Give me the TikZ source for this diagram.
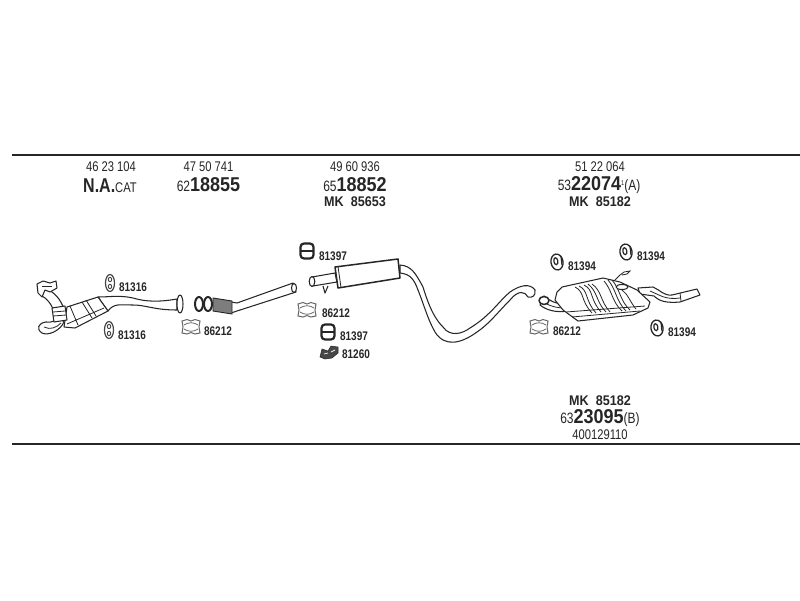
\documentclass[tikz,border=0pt]{standalone}
\usepackage{fontspec}
\setmainfont[FakeStretch=0.8]{Liberation Sans}
\newfontfamily\wideb[FakeStretch=0.9]{Liberation Sans}
\definecolor{ink}{HTML}{262626}
\newcommand{\bigdigits}{\fontsize{20}{20}\selectfont\wideb\bfseries}
\newcommand{\prefixsize}{\fontsize{15}{15}\selectfont}
\tikzset{
  part/.style={draw=ink,line width=1.05pt,fill=white,line join=round},
  partthin/.style={draw=ink,line width=0.8pt},
  rule/.style={draw=ink,line width=1.7pt},
  small/.style={font=\fontsize{14}{15}\selectfont,text=ink,inner sep=0pt},
  big/.style={font=\prefixsize,text=ink,inner sep=0pt},
  code/.style={font=\fontsize{12.5}{13}\selectfont\bfseries,text=ink,inner sep=0pt},
  mk/.style={font=\fontsize{14}{15}\selectfont\wideb\bfseries,text=ink,inner sep=0pt},
  pics/ringclamp/.style={code={
    \draw[ink!85,line width=1.2pt,fill=white] (0,0) ellipse (4.5pt and 8.5pt);
    \draw[ink!85,line width=0.9pt] (0,-3.5) ellipse (1.7pt and 2.2pt) (0,3.5) ellipse (1.7pt and 2.2pt);
  }},
  pics/blockclamp/.style={code={
    \draw[ink,line width=2.2pt,fill=white,rounded corners=3.5pt] (-6.5,-7.5) rectangle (6.5,7.5);
    \draw[ink,line width=1.7pt] (-6.5,0) -- (6.5,0);
  }},
  pics/eyeclamp/.style={code={
    \draw[ink,line width=1.3pt,fill=white,rotate=10] (0,0) ellipse (6pt and 8pt);
    \draw[ink,line width=1.2pt,fill=white,rotate=10] (-1,-1) ellipse (2pt and 3.5pt);
    \draw[ink,line width=1.2pt] (4,-6) -- (5,3);
  }},
  pics/gasket/.style={code={
    \draw[ink!70,line width=1pt,fill=white] (-9,-6) -- (-4,-7.5) -- (0,-6) -- (4,-7.5) -- (9,-6) -- (8,0) -- (9,6) -- (4,7) -- (0,5.5) -- (-4,7) -- (-9,6) -- (-8,0) -- cycle;
    \draw[ink!70,line width=0.8pt] (-7,-2) .. controls (-3,-5) and (3,-5) .. (7,-2) (-7,2) .. controls (-3,5) and (3,5) .. (7,2);
  }},
}
\begin{document}
\begin{tikzpicture}[x=1pt,y=-1pt]
\useasboundingbox (0,0) rectangle (800,600);
\fill[white] (0,0) rectangle (800,600);
\draw[rule] (12,155) -- (800,155);
\draw[rule] (12,444) -- (800,444);

% header texts
\node[small] (a1) at (111,167) {46 23 104};
\node[big] (a2) at (110,186) {\fontsize{20}{20}\selectfont\bfseries N.A.\fontsize{14}{14}\selectfont\mdseries CAT};
\node[small] (b1) at (208.5,167) {47 50 741};
\node[big] (b2) at (208.5,185) {62{\bigdigits 18855}};
\node[small] (c1) at (355,167) {49 60 936};
\node[big] (c2) at (355,185) {65{\bigdigits 18852}};
\node[mk] (c3) at (355,201.5) {MK\ \ 85653};
\node[small] (d1) at (600,167) {51 22 064};
\node[big] (d2) at (599,185) {53{\bigdigits 22074}\raisebox{5pt}{\fontsize{7}{7}\selectfont 1}\fontsize{15}{15}\selectfont(A)};
\node[mk] (d3) at (600,201.5) {MK\ \ 85182};
\node[mk] (e1) at (600,400.5) {MK\ \ 85182};
\node[big] (e2) at (600,418.5) {63{\bigdigits 23095}\fontsize{15}{15}\selectfont(B)};
\node[small] (e3) at (600,435) {400129110};

% part labels
\node[code] (l1) at (133,287) {81316};
\node[code] (l2) at (132,335) {81316};
\node[code] (l3) at (218,331) {86212};
\node[code] (l4) at (333,256) {81397};
\node[code] (l5) at (336,313) {86212};
\node[code] (l6) at (354,336) {81397};
\node[code] (l7) at (356,354) {81260};
\node[code] (l8) at (582,266) {81394};
\node[code] (l9) at (651,256) {81394};
\node[code] (l10) at (682,332) {81394};
\node[code] (l11) at (567,331) {86212};

% clamps
\pic at (110,283) {ringclamp};
\pic at (109,330) {ringclamp};
\pic at (191,327) {gasket};
\pic at (307,251) {blockclamp};
\pic at (307,310) {gasket};
\pic at (328,332) {blockclamp};
\pic at (557,262) {eyeclamp};
\pic at (626,252) {eyeclamp};
\pic at (657,328) {eyeclamp};
\pic at (539,327) {gasket};
% rubber block 81260
\draw[ink,fill=ink!85,line width=0.5pt] (320,357) -- (322,349) -- (328,351) -- (331,346) -- (338,347) -- (338,353) -- (332,358) -- (325,359) -- cycle;
\draw[white,line width=0.7pt] (324,354) -- (328,353) (331,352) -- (335,350);

% front pipe with catalyst
\draw[part] (45,288) .. controls (54,292) and (60,298) .. (64,309) -- (54,312) .. controls (52,304) and (46,298) .. (42,296) -- cycle;
\draw[part] (37,284) -- (43,281) -- (50,283) -- (56,281) -- (57,288) -- (50,292) -- (45,290) -- (42,297) -- (38,293) -- cycle;
\draw[partthin] (42,286) -- (52,286);
\draw[part] (64,322) .. controls (60,331) and (48,336) .. (42,333) .. controls (36,329) and (38,323) .. (46,322) .. controls (52,323) and (56,320) .. (60,318) -- cycle;
\draw[partthin] (44,327) .. controls (50,330) and (56,328) .. (61,323);
\draw[part] (108,311) .. controls (114,303) and (120,305) .. (133,305) .. controls (146,305) and (154,310) .. (177,310) -- (177,299) .. controls (160,302) and (146,302) .. (133,298) .. controls (120,295) and (110,297) .. (98,297) -- cycle;
\draw[part] (67,307) -- (98,297) -- (108,311) -- (75,328) -- (64,327) -- cycle;
\draw[partthin] (82,302) -- (92,318) (86,300) -- (96,316) (70,306) -- (78,325) (67,324) -- (104,308);
\draw[part] (52,308) -- (65,306) -- (67,320) -- (54,322) -- cycle;
\draw[partthin] (53,312) -- (65,311) (53,316) -- (66,315);
\draw[part] (180,304) ellipse (3pt and 9pt);

% second pipe
\draw[part] (231,302) -- (237,303) -- (293,283) -- (296,292) -- (237,311) -- (231,313) -- cycle;
\fill[ink!60,draw=ink,line width=0.9pt] (213,298) -- (232,301) -- (232,314) -- (213,311) -- cycle;
\draw[ink,line width=2pt,fill=white] (208,304) ellipse (4pt and 7pt);
\draw[ink,line width=2pt,fill=white] (199,304) ellipse (4pt and 7pt);
\draw[part] (294,288) ellipse (2.5pt and 4.5pt);

% centre silencer
\draw[part] (400,265) .. controls (411,266) and (415,272) .. (423,287) .. controls (430,310) and (436,320) .. (443,327) .. controls (450,337) and (462,334) .. (470,328) .. controls (490,316) and (500,300) .. (510,292) .. controls (520,285) and (530,283) .. (535,290) .. controls (536,296) and (532,298) .. (528,297) .. controls (525,291) and (518,290) .. (510,300) .. controls (500,310) and (488,325) .. (477,332) .. controls (462,343) and (445,348) .. (435,332) .. controls (428,320) and (424,305) .. (418,290) .. controls (414,279) and (410,274) .. (400,273) -- cycle;
\draw[part] (312,277) -- (335,273) -- (337,282) -- (313,286) -- cycle;
\draw[part] (312,281.5) ellipse (2.8pt and 5pt);
\draw[part] (323,286) -- (325,293) -- (328,286);
\draw[part,line width=1.5pt] (335,267) -- (398,259) -- (400,278) -- (338,288) -- cycle;
\draw[partthin] (338,266.5) -- (341,287.5);

% rear silencer
\draw[part] (638,288) -- (653,287) .. controls (660,290) and (664,296) .. (672,295) -- (697,289) -- (700,295) -- (680,302) .. controls (668,303) and (660,302) .. (654,296) -- (640,294) -- cycle;
\draw[partthin] (680,293) -- (681,301) (650,291) .. controls (660,295) and (665,300) .. (680,298);
\draw[partthin,fill=none] (615,280) -- (620,275) -- (624,272) -- (630,271) -- (627,274) -- (622,275);
\draw[part] (544,296) .. controls (550,301) and (556,304) .. (564,304) -- (568,311) .. controls (556,313) and (546,310) .. (540,305) -- cycle;
\draw[partthin] (545,303) .. controls (552,307) and (558,308) .. (566,308);
\draw[part,line width=1.5pt] (544,300.5) ellipse (5pt and 4pt);
\draw[part] (557,292) -- (562,287) -- (603,278) -- (620,282) -- (637,290) -- (650,302) -- (648,308) -- (633,315) -- (578,321) -- (563,310) -- (555,300) -- cycle;
\draw[partthin] (575,287) .. controls (585,292) and (580,300) .. (592,313);
\draw[partthin] (579,286) .. controls (589,291) and (584,299) .. (596,313);
\draw[partthin] (584,285) .. controls (594,290) and (589,298) .. (601,312);
\draw[partthin] (588,284) .. controls (598,292) and (596,302) .. (606,312);
\draw[partthin] (592,284) .. controls (602,291) and (600,301) .. (610,312);
\draw[partthin] (604,281) .. controls (612,290) and (612,302) .. (622,311);
\draw[partthin] (608,280) .. controls (616,289) and (616,301) .. (626,311);
\draw[partthin] (612,280) .. controls (620,289) and (620,301) .. (630,310);
\draw[partthin] (622,290) .. controls (628,294) and (630,302) .. (636,309);
\draw[partthin] (566,312) -- (645,306) (572,317) -- (640,311);
\draw[part] (622,287) ellipse (6pt and 2.5pt);
\end{tikzpicture}
\end{document}
